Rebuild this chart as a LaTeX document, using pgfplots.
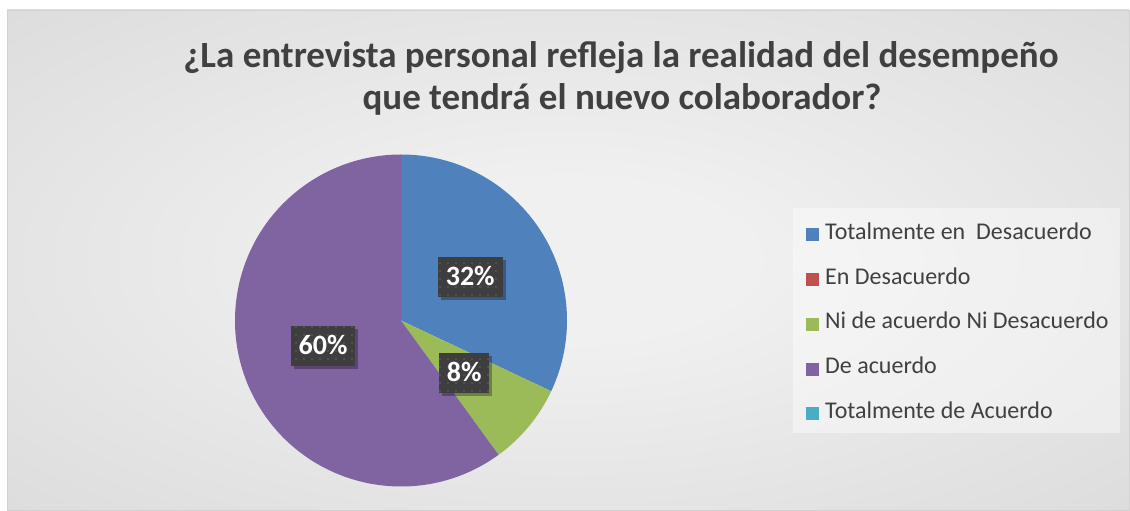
\documentclass[border=0pt]{standalone}
\usepackage{pgfplots}
\pgfplotsset{compat=1.18}
\usepackage{pgfplotstable}
\usepackage{fontspec}
\setmainfont{Carlito}
\usetikzlibrary{shadows,patterns.meta}

\definecolor{pie0}{HTML}{4F81BD}
\definecolor{pie1}{HTML}{C0504D}
\definecolor{pie2}{HTML}{9BBB59}
\definecolor{pie3}{HTML}{8064A2}
\definecolor{pie4}{HTML}{4BACC6}
\definecolor{txt}{HTML}{404040}
\definecolor{bgin}{HTML}{F0F0F0}
\definecolor{bgout}{HTML}{C3C3C3}
\definecolor{lblbg}{HTML}{3E3E3E}
\definecolor{lbldot}{HTML}{575757}

\pgfdeclareradialshading{chartbg}{\pgfpoint{0bp}{0bp}}{color(0bp)=(bgin); color(8bp)=(bgin); color(72bp)=(bgout)}

\pgfplotstableread{
idx value
0 32
1 0
2 8
3 60
4 0
}\piedata

\tikzset{pielabel/.style={fill=lblbg, postaction={pattern={Dots[distance=8pt, radius=1.1pt]}, pattern color=lbldot},
  drop shadow={shadow xshift=3pt, shadow yshift=-3pt, opacity=0.3, fill=black},
  text=white, font=\fontsize{28}{32}\selectfont\bfseries, inner xsep=8pt, text height=18pt, text depth=0pt, inner ysep=11pt}}

\begin{document}
\begin{tikzpicture}[x=1pt,y=1pt]
\useasboundingbox (0,0) rectangle (1130,511);
\fill[white] (0,0) rectangle (1130,511);
\shade[shading=chartbg] (7,1) rectangle (1129,501);
\draw[color=gray!35, line width=0.6pt] (7,1) rectangle (1129,501);
\fill[white, opacity=0.4] (793,78) rectangle (1120,303);
\node[anchor=base, font=\fontsize{37}{44}\selectfont\bfseries, text=txt, inner sep=0pt] at (621,443) {¿La entrevista personal refleja la realidad del desempeño};
\node[anchor=base, font=\fontsize{37}{44}\selectfont\bfseries, text=txt, inner sep=0pt] at (622,401) {que tendrá el nuevo colaborador?};

\begin{axis}[at={(401pt,190.5pt)}, anchor=center, scale only axis,
  width=332pt, height=332pt, xmin=-1, xmax=1, ymin=-1, ymax=1,
  hide axis, clip=false,
  legend image code/.code={\fill[#1, draw=none] (0pt,-6.5pt) rectangle (13pt,6.5pt);},
  legend cell align=left,
  legend style={at={(axis description cs:1.7199,0.79)}, anchor=north west,
    draw=none, fill=none, inner sep=0pt, row sep=23.7pt,
    font=\fontsize{24}{28}\selectfont, text=txt,
    nodes={inner xsep=6pt, inner ysep=0pt, text height=15pt, text depth=6pt}},
]
\xdef\cum{90}
\pgfplotsinvokeforeach{0,...,4}{
  \pgfplotstablegetelem{#1}{value}\of\piedata
  \let\val\pgfplotsretval
  \pgfmathsetmacro\sa{\cum}
  \pgfmathsetmacro\sb{\cum-3.6*\val}
  \pgfmathsetmacro\px{cos(\sa)}
  \pgfmathsetmacro\py{sin(\sa)}
  \xdef\cum{\sb}
  \ifdim\val pt>0pt
    \edef\temp{\noexpand\fill[pie#1] (axis cs:0,0) -- (axis cs:\px,\py) arc[start angle=\sa, end angle=\sb, radius=166pt] -- cycle;}
    \temp
  \fi
}
% labels
\xdef\cum{90}
\pgfplotsinvokeforeach{0,...,4}{
  \pgfplotstablegetelem{#1}{value}\of\piedata
  \let\val\pgfplotsretval
  \pgfmathsetmacro\sa{\cum}
  \pgfmathsetmacro\sb{\cum-3.6*\val}
  \pgfmathsetmacro\mid{(\sa+\sb)/2}
  \pgfmathsetmacro\lx{0.494*cos(\mid)}
  \pgfmathsetmacro\ly{0.494*sin(\mid)}
  \xdef\cum{\sb}
  \ifdim\val pt>0pt
    \edef\temp{\noexpand\node[pielabel] at (axis cs:\lx,\ly) {\val\noexpand\%};}
    \temp
  \fi
}
\addlegendimage{fill=pie0}
\addlegendentry{Totalmente en\ \ Desacuerdo}
\addlegendimage{fill=pie1}
\addlegendentry{En Desacuerdo}
\addlegendimage{fill=pie2}
\addlegendentry{Ni de acuerdo Ni Desacuerdo}
\addlegendimage{fill=pie3}
\addlegendentry{De acuerdo}
\addlegendimage{fill=pie4}
\addlegendentry{Totalmente de Acuerdo}
\end{axis}
\end{tikzpicture}
\end{document}
